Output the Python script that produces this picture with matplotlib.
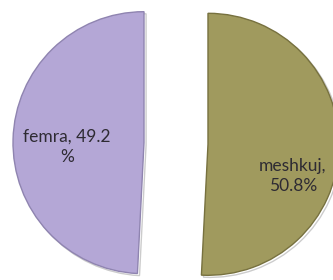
import matplotlib
matplotlib.use("Agg")
from matplotlib import pyplot as plt
import matplotlib.patheffects as pe

# data
kategorite = ["femra", "meshkuj"]
perqindjet = [49.2, 50.8]
etiketat = ["femra, 49.2\n%", "meshkuj,\n50.8%"]
ngjyrat = ["#b4a7d6", "#a09a5e"]
skajet = ["#8f84b0", "#77713f"]


def vizato() -> None:
    fig = plt.figure(figsize=(3.33, 2.8), dpi=100)
    ax = fig.add_axes([0, 0, 1, 1])

    # explode ne matplotlib eshte ne njesi te te dhenave
    wedges, _ = ax.pie(
        perqindjet,
        colors=ngjyrat,
        startangle=90,
        counterclock=True,
        radius=131,
        center=(176, 136.5),
        explode=[32, 32],
        wedgeprops=dict(linewidth=1.0),
        frame=True,
    )
    for w, sk in zip(wedges, skajet):
        w.set_edgecolor(sk)
        w.set_path_effects(
            [pe.SimpleLineShadow(offset=(1.5, -1.5), alpha=0.2), pe.Normal()]
        )

    ax.set_xlim(0, 333)
    ax.set_ylim(0, 280)
    ax.set_aspect("equal")
    ax.axis("off")

    pozicionet = [(67, 133), (293, 104)]
    for tekst, (x, y) in zip(etiketat, pozicionet):
        ax.text(x, y, tekst, ha="center", va="center", fontsize=12.5,
                family="Lato", color="#2e2b33", linespacing=1.3)

    fig.savefig("out.png", dpi=100)


if __name__ == "__main__":
    vizato()
